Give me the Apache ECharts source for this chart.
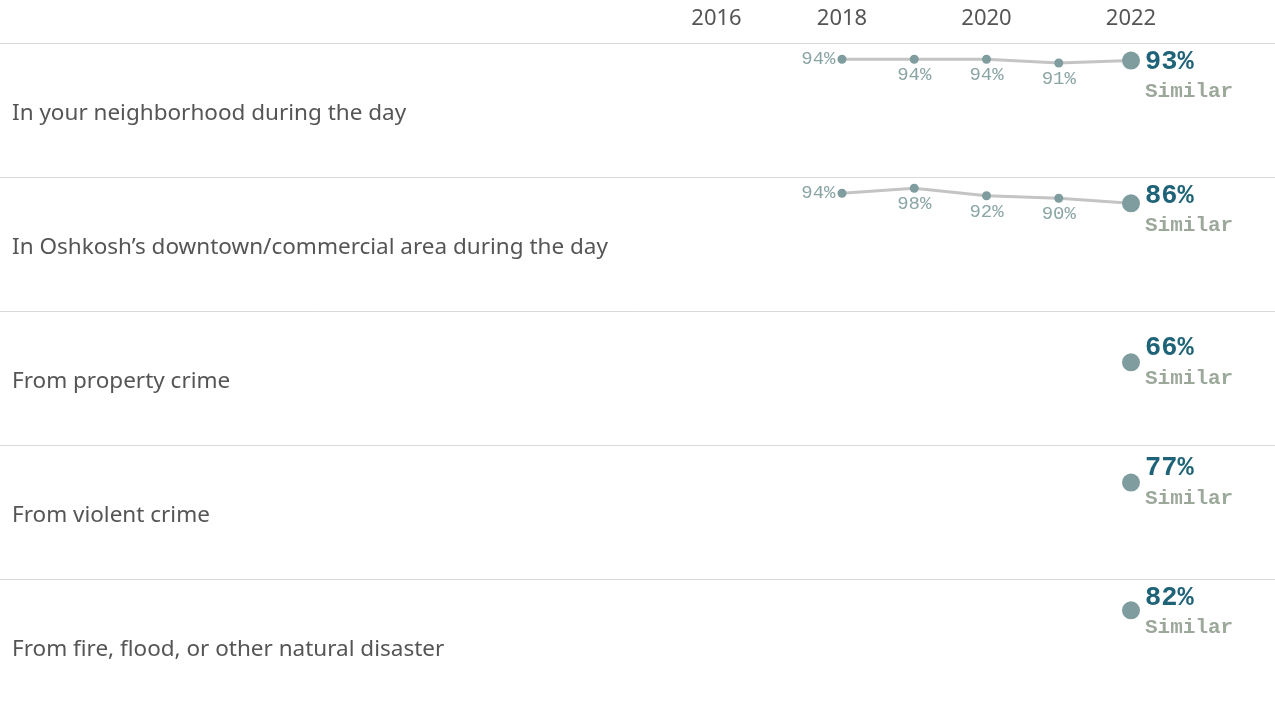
<!DOCTYPE html>
<html>
<head>
<meta charset="utf-8">
<script src="https://cdn.jsdelivr.net/npm/echarts@6/dist/echarts.min.js"></script>
<style>
  html, body { margin: 0; padding: 0; background: #ffffff; overflow: hidden; }
  #chart { width: 1275px; height: 720px; }
</style>
</head>
<body>
<div id="chart"></div>
<script>
// ---- data ----
const years = [2018, 2019, 2020, 2021, 2022];
const yearTicks = [2016, 2018, 2020, 2022];
const categories = [
  'In your neighborhood during the day',
  'In Oshkosh\u2019s downtown/commercial area during the day',
  'From property crime',
  'From violent crime',
  'From fire, flood, or other natural disaster'
];
const neighborhoodDay = [94, 94, 94, 91, 93];
const downtownDay = [94, 98, 92, 90, 86];
const propertyCrime = [null, null, null, null, 66];
const violentCrime = [null, null, null, null, 77];
const naturalDisaster = [null, null, null, null, 82];
const comparison = ['Similar', 'Similar', 'Similar', 'Similar', 'Similar'];

const rowValues = [neighborhoodDay, downtownDay, propertyCrime, violentCrime, naturalDisaster];

// ---- layout / style ----
const TOP = 43, ROW_H = 134, Y_MAX = 107;
const LEFT_PX = 697.5, RIGHT_PX = 144;
const MONO = '"Liberation Mono", "DejaVu Sans Mono", monospace';
const SANS = '"Noto Sans", "Open Sans", sans-serif';

const grids = [{ left: 0, right: 0, top: TOP, height: ROW_H * categories.length }];
const xAxes = [{ gridIndex: 0, type: 'value', show: false }];
const yAxes = [{
  gridIndex: 0, type: 'category', data: categories, inverse: true,
  axisLine: { show: false }, axisTick: { show: false },
  axisLabel: {
    inside: true, margin: 12, align: 'left',
    formatter: v => '{t|' + v + '}',
    rich: { t: { color: '#555555', fontFamily: SANS, fontSize: 22.5, padding: [8, 0, 0, 0] } }
  },
  splitLine: { show: true, lineStyle: { color: '#d9d9d9', width: 1 } }
}];
const series = [];

rowValues.forEach((vals, r) => {
  const gi = r + 1;
  grids.push({ left: LEFT_PX, right: RIGHT_PX, top: TOP + ROW_H * r, height: ROW_H });
  xAxes.push({
    gridIndex: gi, type: 'value', min: yearTicks[0], max: years[years.length - 1], interval: 2,
    position: 'top', show: r === 0,
    axisLine: { show: false }, axisTick: { show: false }, splitLine: { show: false },
    axisLabel: {
      show: r === 0, margin: 13, color: '#555555', fontFamily: SANS, fontSize: 22,
      formatter: v => (yearTicks.indexOf(v) < 0 ? '' : (v === yearTicks[0] ? '{p|}' + v : String(v))),
      rich: { p: { width: 38 } }
    }
  });
  yAxes.push({ gridIndex: gi, type: 'value', min: 0, max: Y_MAX, show: false, splitLine: { show: false } });

  const first = vals.findIndex(v => v != null);
  const last = vals.length - 1;
  const data = years.map((yr, i) => {
    const v = vals[i];
    if (v == null) return [yr, null];
    const item = { value: [yr, v] };
    if (i === last) {
      const pointOff = ROW_H * (1 - v / Y_MAX);
      const shift = Math.max(1, 34 - pointOff);
      item.symbolSize = 18;
      item.label = {
        show: true, position: 'right', distance: 5, offset: [0, shift],
        formatter: '{a|' + v + '%}\n{b|' + comparison[r] + '}',
        rich: {
          a: { fontFamily: MONO, fontWeight: 'bold', fontSize: 27, color: '#1f6378', lineHeight: 30 },
          b: { fontFamily: MONO, fontWeight: 'bold', fontSize: 21, color: '#9ba89a', lineHeight: 30 }
        }
      };
    } else {
      item.label = {
        show: true, position: i === first ? 'left' : 'bottom', distance: 2,
        formatter: v + '%', fontFamily: MONO, fontSize: 19, color: '#8ba5a5'
      };
    }
    return item;
  });

  series.push({
    type: 'line', xAxisIndex: gi, yAxisIndex: gi, data: data,
    symbol: 'circle', symbolSize: 9, showSymbol: true, clip: false,
    connectNulls: false, silent: true, animation: false,
    lineStyle: { color: '#c4c4c4', width: 3 },
    itemStyle: { color: '#7f9c9e', borderWidth: 0 },
    z: 3
  });
});

const chart = echarts.init(document.getElementById('chart'), null, { renderer: 'canvas' });
chart.setOption({
  animation: false,
  backgroundColor: '#ffffff',
  grid: grids, xAxis: xAxes, yAxis: yAxes, series: series
});
</script>
</body>
</html>
